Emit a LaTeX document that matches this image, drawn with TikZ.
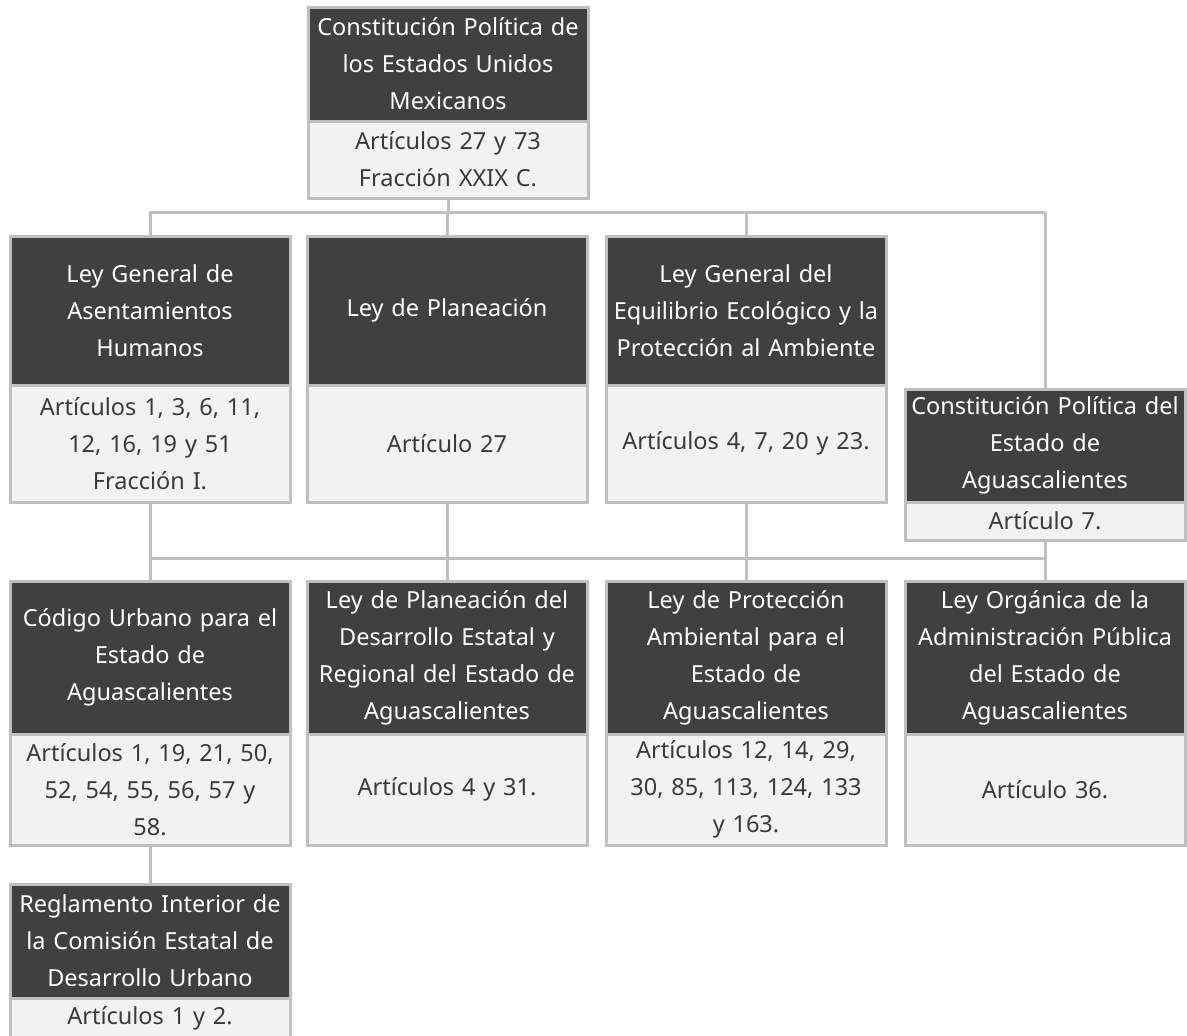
\documentclass[tikz,border=0pt]{standalone}
\usepackage{fontspec}
\setmainfont{Noto Sans}
\definecolor{hdrfill}{HTML}{404040}
\definecolor{bdyfill}{HTML}{F2F2F2}
\definecolor{edge}{HTML}{BFBFBF}
\definecolor{bdytext}{HTML}{3A3A3A}
\begin{document}
\begin{tikzpicture}[x=1pt,y=-1pt,
  box/.style={draw=edge, line width=3pt, outer sep=0pt, inner sep=1pt,
    minimum width=280pt, text width=278pt, align=center,
    font=\fontsize{23.5}{37}\selectfont, anchor=north},
  hdr/.style={box, fill=hdrfill, text=white},
  bdy/.style={box, fill=bdyfill, text=bdytext},
  conn/.style={draw=edge, line width=3pt}]
\useasboundingbox (0,0) rectangle (1187,1036);
\clip (0,0) rectangle (1187,1036);

% top
\node[hdr, minimum height=114pt] (th) at (448,7) {Constitución Política de\\los Estados Unidos\\Mexicanos};
\node[bdy, minimum height=77pt] (tb) at (th.south) {Artículos 27 y 73\\Fracción XXIX C.};

% row 2
\node[hdr, minimum height=149pt] (ah) at (150,236) {Ley General de\\Asentamientos\\Humanos};
\node[bdy, minimum height=117pt] (ab) at (ah.south) {Artículos 1, 3, 6, 11,\\12, 16, 19 y 51\\Fracción I.};
\node[hdr, minimum height=149pt] (bh) at (447,236) {Ley de Planeación};
\node[bdy, minimum height=117pt] (bb) at (bh.south) {Artículo 27};
\node[hdr, minimum height=149pt] (ch) at (746,236) {Ley General del\\Equilibrio Ecológico y la\\Protección al Ambiente};
\node[bdy, minimum height=117pt] (cb) at (ch.south) {Artículos 4, 7, 20 y 23.};
\node[hdr, minimum height=113pt] (dh) at (1045,389) {Constitución Política del\\Estado de\\Aguascalientes};
\node[bdy, minimum height=38pt] (db) at (dh.south) {Artículo 7.};

% row 3
\node[hdr, minimum height=153pt] (eh) at (150,581) {Código Urbano para el\\Estado de\\Aguascalientes};
\node[bdy, minimum height=111pt] (eb) at (eh.south) {Artículos 1, 19, 21, 50,\\52, 54, 55, 56, 57 y\\58.};
\node[hdr, minimum height=153pt] (fh) at (447,581) {Ley de Planeación del\\Desarrollo Estatal y\\Regional del Estado de\\Aguascalientes};
\node[bdy, minimum height=111pt] (fb) at (fh.south) {Artículos 4 y 31.};
\node[hdr, minimum height=153pt] (gh) at (746,581) {Ley de Protección\\Ambiental para el\\Estado de\\Aguascalientes};
\node[bdy, minimum height=111pt] (gb) at (gh.south) {Artículos 12, 14, 29,\\30, 85, 113, 124, 133\\y 163.};
\node[hdr, minimum height=153pt] (hh) at (1045,581) {Ley Orgánica de la\\Administración Pública\\del Estado de\\Aguascalientes};
\node[bdy, minimum height=111pt] (hb) at (hh.south) {Artículo 36.};

% row 4
\node[hdr, minimum height=114pt] (rh) at (150,884) {Reglamento Interior de\\la Comisión Estatal de\\Desarrollo Urbano};
\node[bdy, minimum height=40pt] (rb) at (rh.south) {Artículos 1 y 2.};

% connectors
\coordinate (busA) at (0,212);
\coordinate (busB) at (0,558);
\draw[conn] (tb.south) -- (tb.south |- busA);
\draw[conn] (ah.north |- busA) -- (dh.north |- busA);
\draw[conn] (ah.north |- busA) -- (ah.north);
\draw[conn] (bh.north |- busA) -- (bh.north);
\draw[conn] (ch.north |- busA) -- (ch.north);
\draw[conn] (dh.north |- busA) -- (dh.north);
\draw[conn] (ab.south) -- (eh.north);
\draw[conn] (bb.south) -- (fh.north);
\draw[conn] (cb.south) -- (gh.north);
\draw[conn] (db.south) -- (hh.north);
\draw[conn] (ab.south |- busB) -- (db.south |- busB);
\draw[conn] (eb.south) -- (rh.north);
\end{tikzpicture}
\end{document}
